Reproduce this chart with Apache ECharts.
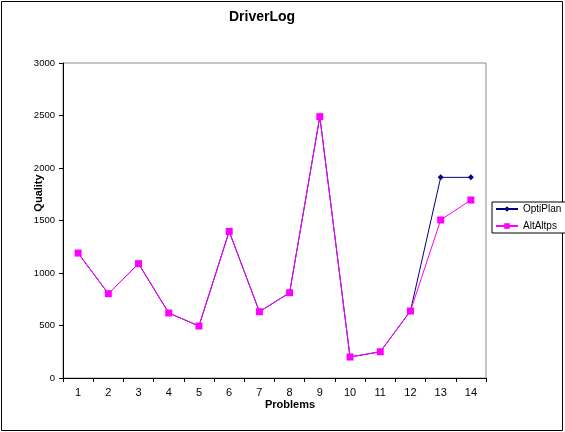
<!DOCTYPE html>
<html>
<head>
<meta charset="utf-8">
<script src="https://cdn.jsdelivr.net/npm/echarts@6/dist/echarts.min.js"></script>
<style>
  html, body { margin: 0; padding: 0; background: #fff; }
  #chart { width: 565px; height: 432px; }
</style>
</head>
<body>
<div id="chart"></div>
<script>
// Problem numbers along the x axis
const problems = ['1','2','3','4','5','6','7','8','9','10','11','12','13','14'];
// Plan quality per problem for each planner
const optiPlan = [1190, 803, 1089, 619, 495, 1396, 631, 812, 2489, 200, 250, 638, 1911, 1911];
const altAltps = [1190, 803, 1089, 619, 495, 1396, 631, 812, 2489, 200, 250, 638, 1505, 1695];
// Quality axis ticks
const qualityTicks = [0, 500, 1000, 1500, 2000, 2500, 3000];

const font = 'Liberation Sans, Arial, sans-serif';
const chart = echarts.init(document.getElementById('chart'), null, { renderer: 'canvas' });

chart.setOption({
  animation: false,
  backgroundColor: '#fff',
  textStyle: { fontFamily: font },
  grid: { left: 63, top: 63, right: 79, bottom: 54, show: true, borderColor: '#8c8c8c', borderWidth: 1, backgroundColor: '#fff' },
  legend: {
    orient: 'vertical',
    left: 492, top: 202,
    padding: [2, 6, 2, 3],
    itemGap: 7,
    itemWidth: 22, itemHeight: 7,
    borderColor: '#000', borderWidth: 1,
    backgroundColor: '#fff',
    textStyle: { fontFamily: font, fontSize: 10, color: '#000' },
    data: ['OptiPlan', 'AltAltps']
  },
  xAxis: {
    type: 'category',
    data: problems,
    boundaryGap: true,
    axisLine: { lineStyle: { color: '#000', width: 1 } },
    axisTick: { show: true, length: 4, inside: false, lineStyle: { color: '#000' } },
    axisLabel: { fontFamily: font, fontSize: 11, color: '#000', margin: 9 },
    splitLine: { show: false }
  },
  yAxis: {
    type: 'value',
    min: qualityTicks[0],
    max: qualityTicks[qualityTicks.length - 1],
    interval: qualityTicks[1] - qualityTicks[0],
    axisLine: { show: true, lineStyle: { color: '#000', width: 1 } },
    axisTick: { show: true, length: 4, lineStyle: { color: '#000' } },
    axisLabel: { fontFamily: font, fontSize: 9.5, color: '#000', margin: 8, formatter: v => String(v) },
    splitLine: { show: false }
  },
  graphic: [
    {
      type: 'rect', silent: true, z: -10,
      shape: { x: 1.5, y: 1.5, width: 561, height: 429 },
      style: { fill: 'none', stroke: '#000', lineWidth: 1 }
    },
    {
      type: 'text', x: 262, y: 17,
      style: { text: 'DriverLog', font: 'bold 14px ' + font, fill: '#000', align: 'center', verticalAlign: 'middle' }
    },
    {
      type: 'text', x: 290, y: 405,
      style: { text: 'Problems', font: 'bold 11px ' + font, fill: '#000', align: 'center', verticalAlign: 'middle' }
    },
    {
      type: 'text', x: 39, y: 193, rotation: Math.PI / 2,
      style: { text: 'Quality', font: 'bold 11px ' + font, fill: '#000', align: 'center', verticalAlign: 'middle' }
    }
  ],
  series: [
    {
      name: 'OptiPlan',
      type: 'line',
      data: optiPlan,
      symbol: 'diamond',
      symbolSize: 6,
      color: '#000080',
      lineStyle: { color: '#000080', width: 1 },
      itemStyle: { color: '#000080' },
      z: 2
    },
    {
      name: 'AltAltps',
      type: 'line',
      data: altAltps,
      symbol: 'rect',
      symbolSize: 7,
      color: '#ff00ff',
      lineStyle: { color: '#ff00ff', width: 1 },
      itemStyle: { color: '#ff00ff' },
      z: 3
    }
  ]
});
</script>
</body>
</html>
